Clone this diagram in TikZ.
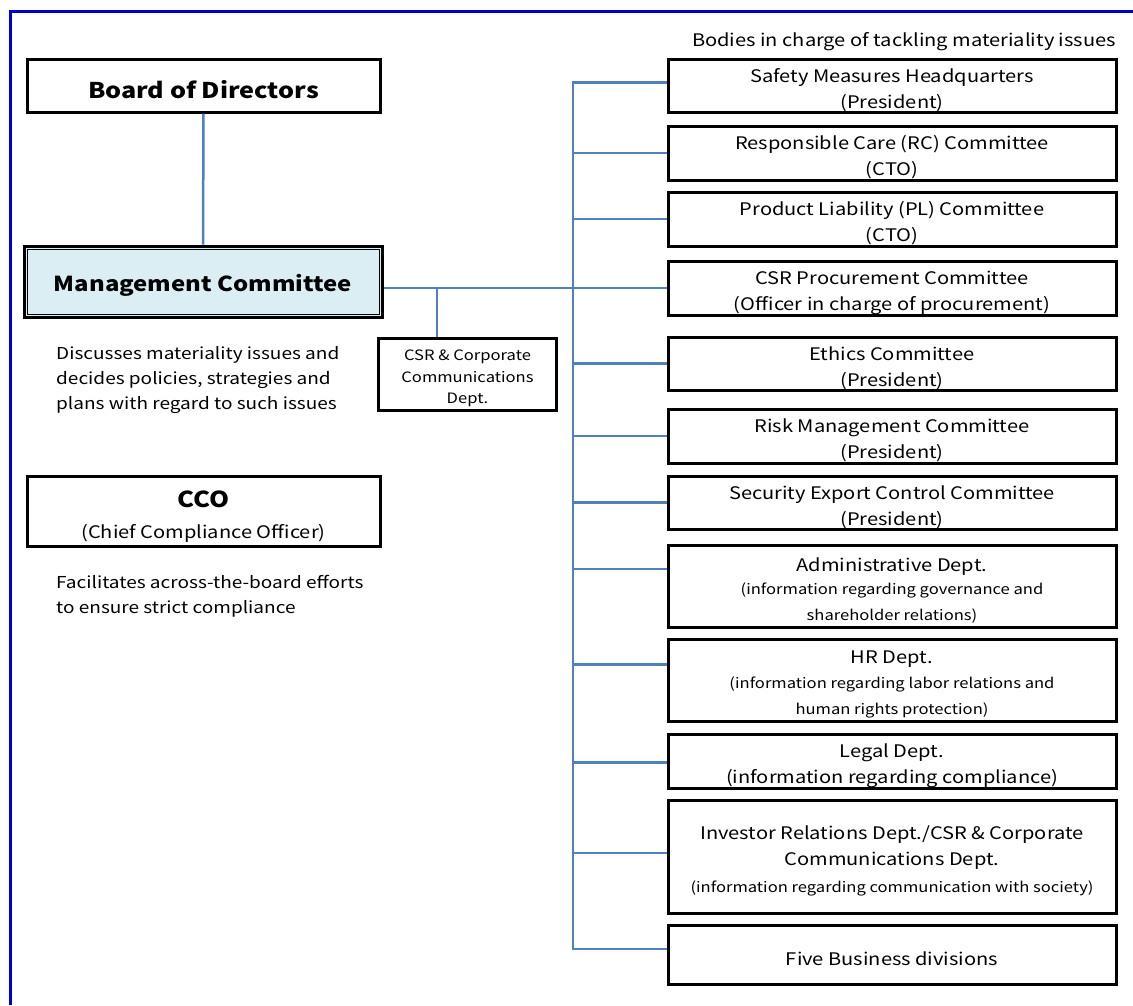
\documentclass[tikz,border=0pt]{standalone}
\usepackage{fontspec}
\setmainfont[FakeStretch=1.16]{Noto Sans CJK JP}
\usetikzlibrary{calc}
\definecolor{framecol}{RGB}{0,0,204}
\definecolor{conncol}{RGB}{79,129,189}
\definecolor{mgmtfill}{RGB}{218,238,243}
\newcommand{\fA}{\fontsize{17.3}{26}\selectfont}
\newcommand{\fS}{\fontsize{14.3}{21.5}\selectfont}
\begin{document}
\begin{tikzpicture}[x=1pt,y=-1pt,
  rbox/.style={draw=black,line width=3pt,rectangle,inner sep=0pt},
  tx/.style={inner sep=0pt,align=center,font=\fA,yshift=-4.5pt},
  conn/.style={draw=conncol,line width=2.5pt},
  txt/.style={inner sep=0pt,align=left,font=\fontsize{16.4}{25}\selectfont}]
\useasboundingbox (0,0) rectangle (1133,1005);
\fill[white] (0,0) rectangle (1133,1005);
% frame
\draw[framecol,line width=3pt] (10,1005) -- (10,11) -- (1133,11);

% left column
\node[rbox,minimum width=353,minimum height=53,
  label={[tx,font=\fontsize{21.7}{26}\selectfont\bfseries]center:Board of Directors}] (board) at (203.5,85.5) {};
\node[rbox,fill=mgmtfill,minimum width=358,minimum height=71,
  label={[tx,yshift=0.5pt,font=\fontsize{20.6}{26}\selectfont\bfseries]center:Management Committee}] (mgmt) at (203,281.5) {};
\draw[black,line width=1pt] ([shift={(4.5,4.5)}]mgmt.north west) rectangle ([shift={(-4.5,-4.5)}]mgmt.south east);
\node[txt,anchor=west] (disc) at (56,380) {Discusses materiality issues and\\decides policies, strategies and\\plans with regard to such issues};
\node[rbox,minimum width=178,minimum height=72,
  label={[tx,font=\fS]center:{CSR \& Corporate\\Communications\\Dept.}}] (csrc) at (467.5,374) {};
\node[rbox,minimum width=353,minimum height=70,
  label={[tx,yshift=-1pt]center:{\fontsize{22}{26}\selectfont\bfseries CCO\\[5pt]\fA\mdseries (Chief Compliance Officer)}}] (cco) at (203.5,511) {};
\node[txt,anchor=west] (fac) at (56,596.5) {Facilitates across-the-board efforts\\to ensure strict compliance};

% right column
\node[inner sep=0pt,font=\fA] (bodies) at (904,42) {Bodies in charge of tackling materiality issues};
\node[rbox,minimum width=448,minimum height=53,label={[tx]center:{Safety Measures Headquarters\\(President)}}] (r1) at (892,85.5) {};
\node[rbox,minimum width=448,minimum height=54,label={[tx]center:{Responsible Care (RC) Committee\\(CTO)}}] (r2) at (892,153) {};
\node[rbox,minimum width=448,minimum height=54,label={[tx]center:{Product Liability (PL) Committee\\(CTO)}}] (r3) at (892,219) {};
\node[rbox,minimum width=448,minimum height=54,label={[tx]center:{CSR Procurement Committee\\(Officer in charge of procurement)}}] (r4) at (892,288) {};
\node[rbox,minimum width=448,minimum height=53,label={[tx]center:{Ethics Committee\\(President)}}] (r5) at (892,363.5) {};
\node[rbox,minimum width=448,minimum height=54,label={[tx]center:{Risk Management Committee\\(President)}}] (r6) at (892,436) {};
\node[rbox,minimum width=448,minimum height=53,label={[tx]center:{Security Export Control Committee\\(President)}}] (r7) at (892,502.5) {};
\node[rbox,minimum width=448,minimum height=82,label={[tx]center:{Administrative Dept.\\[-3pt]\fS (information regarding governance and\\\fS shareholder relations)}}] (r8) at (892,586) {};
\node[rbox,minimum width=448,minimum height=82,label={[tx]center:{HR Dept.\\[-1pt]\fS (information regarding labor relations and\\\fS human rights protection)}}] (r9) at (892,680) {};
\node[rbox,minimum width=448,minimum height=54,label={[tx]center:{Legal Dept.\\(information regarding compliance)}}] (r10) at (892,761) {};
\node[rbox,minimum width=448,minimum height=113,label={[tx]center:{Investor Relations Dept./CSR \& Corporate\\Communications Dept.\\[1pt]\fS (information regarding communication with society)}}] (r11) at (892,856.5) {};
\node[rbox,minimum width=448,minimum height=59,label={[tx]center:Five Business divisions}] (r12) at (892,954.5) {};

% connectors
\coordinate (p1) at ($(r1.north west)!0.45!(r1.south west)$);
\coordinate (p8) at ($(r8.north west)!0.30!(r8.south west)$);
\coordinate (p9) at ($(r9.north west)!0.32!(r9.south west)$);
\coordinate (p10) at ($(r10.north west)!0.53!(r10.south west)$);
\coordinate (p11) at ($(r11.north west)!0.47!(r11.south west)$);
\coordinate (p12) at ($(r12.north west)!0.41!(r12.south west)$);
\coordinate (ttop) at (573,0 |- p1);
\draw[conn] (board.south) -- (mgmt.north);
\draw[conn] (mgmt.east |- r4.west) -- (r4.west);
\coordinate (jc) at (437,0 |- r4.west);
\draw[conn] (jc) -- (jc |- csrc.north);
\draw[conn] (p1) -- (ttop) -- (ttop |- p12) -- (p12);
\foreach \b in {r2,r3,r5,r6,r7} {\draw[conn] (ttop |- \b.west) -- (\b.west);}
\foreach \p in {p8,p9,p10,p11} {\draw[conn] (ttop |- \p) -- (\p);}
\end{tikzpicture}
\end{document}
